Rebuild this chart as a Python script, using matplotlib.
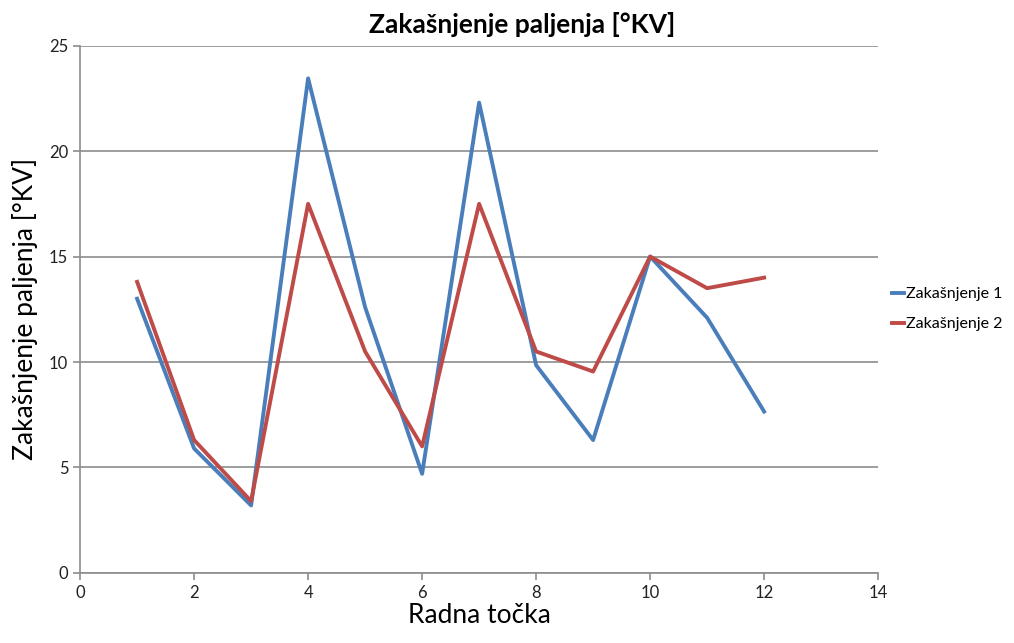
import numpy as np
import matplotlib.pyplot as plt

plt.rcParams['font.family'] = ['Lato', 'DejaVu Sans']

# Radne točke i izmjerena zakašnjenja paljenja
tocke = [1, 2, 3, 4, 5, 6, 7, 8, 9, 10, 11, 12]
zakasnjenje_1 = [13.0, 5.9, 3.2, 23.45, 12.6, 4.7, 22.3, 9.85, 6.3, 15.0, 12.1, 7.65]
zakasnjenje_2 = [13.8, 6.3, 3.4, 17.5, 10.5, 6.0, 17.5, 10.5, 9.55, 15.0, 13.5, 14.0]

fig = plt.figure(figsize=(10.14, 6.43), dpi=100)
ax = fig.add_axes([0.079, 0.109, 0.787, 0.82])

ax.plot(tocke, zakasnjenje_1, color='#4A7EBB', lw=2.8, label='Zakašnjenje 1')
ax.plot(tocke, zakasnjenje_2, color='#BE4B48', lw=2.8, label='Zakašnjenje 2')

ax.set_xlim(0, 14)
ax.set_ylim(0, 25)
ax.set_xticks(np.arange(0, 15, 2))
ax.set_yticks(np.arange(0, 26, 5))
ax.grid(axis='y', color='#8c8c8c', lw=1.2)
ax.set_axisbelow(True)

for s in ['top', 'right']:
    ax.spines[s].set_visible(False)
for s in ['left', 'bottom']:
    ax.spines[s].set_color('#8c8c8c')
    ax.spines[s].set_linewidth(1.2)
ax.tick_params(direction='out', color='#8c8c8c', width=1.2, length=5,
               labelsize=12, labelcolor='#222222')

# naslov je centriran na cijelom grafikonu (s legendom)
fig.text(0.515, 0.962, 'Zakašnjenje paljenja [°KV]', fontsize=19,
         fontweight='bold', ha='center', va='center')
ax.set_xlabel('Radna točka', fontsize=19, labelpad=2)
ax.set_ylabel('Zakašnjenje paljenja [°KV]', fontsize=19, labelpad=8)

ax.legend(loc='center left', bbox_to_anchor=(1.0, 0.5), frameon=False,
          fontsize=11.5, handlelength=0.7, handletextpad=0.15, labelspacing=1.0)

fig.savefig('out.png')
